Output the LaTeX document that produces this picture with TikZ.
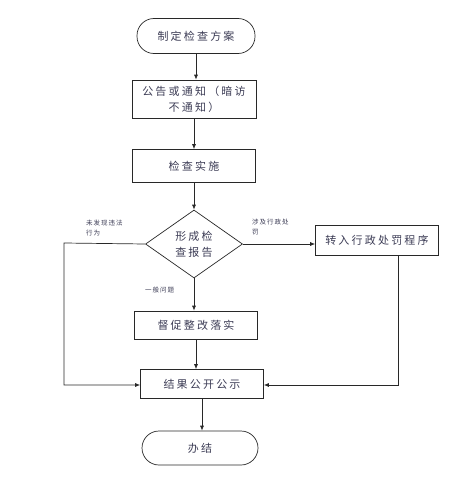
\documentclass[tikz,border=0pt]{standalone}
\usepackage{fontspec}
\setmainfont{Noto Sans CJK SC}
\definecolor{textslate}{RGB}{60,60,85}
\definecolor{linegray}{RGB}{40,40,40}
\usepackage{tikz}
\usetikzlibrary{arrows.meta,positioning,shapes.geometric,calc}

\begin{document}
\begin{tikzpicture}[x=1pt,y=-1pt,
      box/.style={draw=linegray,line width=0.7pt,minimum width=123pt,minimum height=30pt,
                  inner sep=2pt,align=center,text=textslate,
                  font=\fontsize{11}{16}\selectfont\addfontfeature{LetterSpace=20}},
      term/.style={box,rounded corners=17pt,minimum width=118pt,minimum height=35pt},
      dec/.style={box,diamond,aspect=1.43,minimum width=97pt,minimum height=68pt,inner sep=0pt},
      lbl/.style={font=\fontsize{6.5}{10}\selectfont\addfontfeature{LetterSpace=15},
                  text=textslate,align=left,inner sep=0pt},
      a/.style={-{Latex[length=5pt,width=4pt]},color=linegray,line width=0.7pt}]
      \useasboundingbox (0,0) rectangle (465,503);
      % main column
      \node[term] (start) at (196,36) {制定检查方案};
      \node[box,minimum width=124pt,minimum height=38pt] (notice) at (194,99) {公告或通知（暗访\\不通知）};
      \node[box,minimum height=33pt] (inspect) at (194,166) {检查实施};
      \node[dec] (report) at (194,244) {形成检\\查报告};
      \node[box] (penalty) at (377,240) {转入行政处罚程序};
      \node[box,minimum height=28pt] (rectify) at (196,325) {督促整改落实};
      \node[box,minimum height=29pt] (publish) at (202,384) {结果公开公示};
      \node[term,minimum width=116pt,minimum height=34pt] (finish) at (200,448) {办结};
      % branch labels
      \node[lbl,anchor=west] (lnone) at (86,228) {未发现违法\\行为};
      \node[lbl,anchor=west] (lpen) at (252,227) {涉及行政处\\罚};
      \node[lbl,anchor=west] (lgen) at (145,290) {一般问题};
      \coordinate (lc1) at (64,243);
      \coordinate (lc2) at (64,385);
      \coordinate (rc1) at (398,385);
      % connectors
      \draw[a] (start.south) -- (start.south |- notice.north);
      \draw[a] (notice) -- (inspect);
      \draw[a] (inspect) -- (report);
      \draw[a] (report.east) -- (report.east -| penalty.west);
      \draw[a] (report) -- (rectify.north -| report);
      \draw[a] (rectify.south) -- (rectify.south |- publish.north);
      \draw[a] (publish.south) -- (publish.south |- finish.north);
      \draw[a] (report.west) -- (lc1) -- (lc2) -- (lc2 -| publish.west);
      \draw[a] (rc1 |- penalty.south) -- (rc1) -- (rc1 -| publish.east);
    \end{tikzpicture}
\end{document}
